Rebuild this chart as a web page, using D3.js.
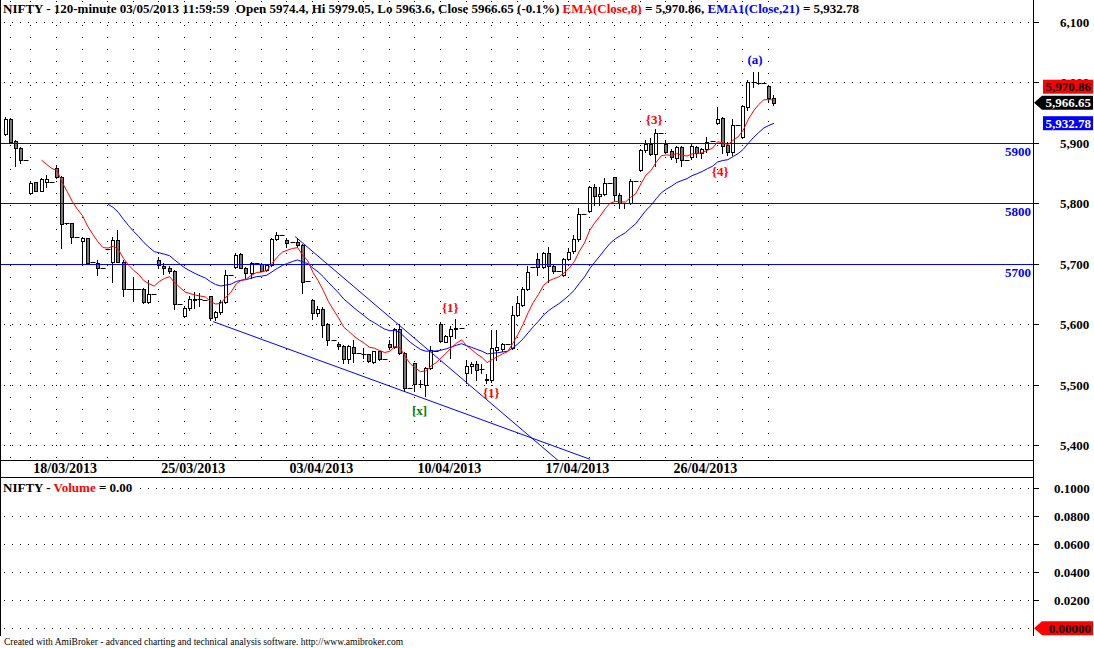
<!DOCTYPE html>
<html><head><meta charset="utf-8">
<script src="https://cdn.jsdelivr.net/npm/d3@7"></script>
<style>body{margin:0;background:#fff;} svg{display:block;} text{white-space:pre;}</style>
</head><body>
<svg id="c" width="1094" height="648"></svg>
<script>
// ---------------- DATA ----------------
const opens = [
5914.6,5939.4,5903,5891.5,5872, 5817,5835,5821.5,5835,5835,
5858.5,5843.6,5767.6,5767.6,5745.5, 5739,5743,5703,5702.6,5693,
5724.7,5704.3,5740,5704,5659, 5659,5659,5659,5636.6,5650,
5706,5697.7,5693.9,5689.4,5634.4, 5613.5,5627.3,5642,5642,5640,
5646.5,5612.6,5620.7,5638.2,5682, 5696,5716.5,5693.4,5685,5702,
5700.5,5691,5699,5741,5748, 5739.6,5736,5736.3,5731.8,5671.9,
5641,5619,5625.7,5601,5575, 5568.4,5565,5543,5563,5553,
5551,5551.4,5539,5555.7,5543, 5568,5563,5592.6,5553,5495,
5536.5,5502,5499.5,5528.3,5557, 5601.4,5572,5581.6,5592,5595,
5520,5531,5535.4,5527,5511, 5509,5558,5560,5568,5561.3,
5616.3,5633,5659,5696,5708.2, 5695,5718,5697,5689,5682.3,
5708,5721,5741,5782.5,5788.5, 5827,5812,5816,5834,5843.6,
5814,5800.7,5800.7,5837,5855.7, 5888.7,5898.6,5881.6,5916,5898.6,
5887,5875,5893,5872,5876.6, 5894,5883,5889.8,5903,5932.8,
5941,5897,5885.9,5930,5910.6, 5960,6001,6000,5999,5994.3,
5974.4];
const highs = [
5943.6,5942,5905,5893,5872, 5836,5836,5842,5847.4,5835,
5863.9,5845,5768,5768,5745.5, 5744,5743,5703,5706,5693,
5724.7,5745.5,5756.6,5706,5659, 5677,5659,5660,5674,5650,
5712.5,5701.6,5697,5690,5634.4, 5630,5646.5,5654.7,5652,5640,
5648,5622,5641,5690.5,5682, 5718,5718,5695,5704,5702,
5702,5700,5743,5753.8,5748, 5742.8,5736,5742.8,5733,5671.9,
5642,5630,5629,5602,5575, 5572,5566,5566,5575,5553,
5561,5552,5557,5556,5543, 5575,5594,5601,5554,5495,
5537,5508,5530,5564,5557, 5603.6,5583,5597,5609.7,5595,
5541.9,5538,5540,5535,5518.8, 5591.5,5591,5570,5568,5630,
5646.5,5662,5697,5696,5719, 5720.8,5729,5699,5689,5710,
5726.4,5748.3,5792.4,5782.5,5829, 5832.5,5827,5842,5834,5844.6,
5817,5800.7,5840,5837,5890, 5905,5908,5922.9,5916,5905,
5890,5895,5895,5872,5899, 5895,5892,5910.6,5903,5960.2,
5943,5902,5939.4,5930,5963, 6004.2,6017.9,6017,5999,5996,
5979.05];
const lows = [
5913,5900,5862.8,5866.7,5872, 5816,5820,5820,5828,5835,
5843,5726.4,5767,5734.6,5745.5, 5701.6,5701.6,5703,5682.3,5693,
5724.7,5671.2,5704,5647.6,5659, 5641,5659,5635,5635,5650,
5693.4,5683.9,5685,5625.7,5634.4, 5612,5625,5627.8,5631,5640,
5608,5608,5618,5636,5682, 5694,5693,5676.8,5676.8,5702,
5688,5689,5697,5740,5748, 5729,5736,5729,5652,5671.9,
5609.2,5614,5580.4,5566.7,5575, 5562,5536.5,5536.5,5539,5553,
5545,5538,5537,5542,5543, 5561,5561,5552,5489.6,5495,
5489.6,5497,5481.4,5527,5557, 5571,5571,5544.8,5577.8,5595,
5503.5,5520,5509,5520,5503.5, 5505,5542,5556,5568,5559,
5614,5631,5657,5696,5682.3, 5693,5671.2,5686,5689,5680,
5706,5719,5739,5782.5,5786, 5797.9,5798,5814,5834,5806.1,
5792.4,5792,5799,5837,5854, 5886,5880,5862.3,5916,5884,
5874,5869,5862.3,5872,5874, 5877,5876,5886,5903,5931,
5883.2,5880.4,5880,5930,5909, 5954.7,5993,5997,5999,5968.4,
5963.6];
const closes = [
5939.4,5902.4,5891.5,5872.2,5872, 5834.7,5821.5,5840.3,5840,5835,
5843.6,5766,5767.6,5745.5,5745.5, 5743,5701.6,5703,5693.4,5693,
5724.7,5740.1,5704,5658.7,5659, 5659,5659,5636.6,5650.4,5650,
5698.8,5693.4,5689.4,5634.4,5634.4, 5627.3,5642.2,5640,5642,5640,
5610.8,5620.7,5638.2,5682.3,5682, 5715.3,5693.4,5685.1,5702.6,5702,
5689.4,5699,5741.2,5748.3,5748, 5734.5,5736,5731.8,5671.2,5671.9,
5619.1,5625.7,5599.8,5575,5575, 5564,5543.1,5564,5553,5553,
5551,5539.2,5555.7,5543,5543, 5563,5592.6,5553,5495.2,5495,
5502.3,5502,5528.3,5558.5,5557, 5572.2,5581.6,5593.1,5594.6,5595,
5530.9,5535.4,5525.5,5527,5507.8, 5561.3,5562.3,5568.4,5568,5616.3,
5635.6,5658.7,5687.7,5696,5695, 5718.1,5697.2,5689.4,5689,5708.2,
5720.8,5741.2,5782.5,5782.5,5827.1, 5812.7,5816,5833.7,5834,5814.4,
5800.7,5800.7,5837.5,5837,5888.7, 5898.6,5881.6,5916.2,5916,5885.9,
5876.6,5893.1,5872.2,5872,5895.3, 5883.2,5889.8,5902.4,5903,5939.4,
5895.3,5885.9,5930,5930,5961.3, 6001.4,6001,6000,5999,5974,
5966.65];

const dateLabels = ["18/03/2013","25/03/2013","03/04/2013","10/04/2013","17/04/2013","26/04/2013"];
const dateLabelBars = [5,30,55,80,105,130];
const dayStartBars = [1,5,10,15,20,25,30,35,40,45,50,55,60,65,70,75,80,85,90,95,100,105,110,114,119,124,129,134,139,144,149];
const priceTicks = [5400,5500,5600,5700,5800,5900,6000,6100];
const priceTickLabels = ["5,400","5,500","5,600","5,700","5,800","5,900","6,000","6,100"];
const volumeTicks = [0.02,0.04,0.06,0.08,0.1];
const volumeTickLabels = ["0.0200","0.0400","0.0600","0.0800","0.1000"];
const levelLines = [5900,5800,5700];
const levelLabels = ["5900","5800","5700"];
// trend lines: [bar0, price0, bar1, price1]
const trendLines = [[40.5,5605,114.1,5377.5],[56.5,5745.5,107.9,5375.2]];
const annoText = ["(a)","{3}","{4}","{1}","{1}","[x]"];
const annoBar = [146.3,126.6,139.5,86.8,94.8,80.8];
const annoPrice = [6037.3,5939,5852.4,5628.6,5488.3,5457.8];
const annoColor = ["#0000ff","#ff0000","#ff0000","#ff0000","#ff0000","#008000"];
const lastClose = 5966.65, lastEma8 = 5970.86, lastEma21 = 5932.78, lastVolume = 0;

// ---------------- SCALES ----------------
const svg = d3.select('#c');
const AX = 1033;
const x = d3.scaleLinear().domain([0,150]).range([5.7,774]);
const y = d3.scaleLinear().domain([5400,6100]).range([445.7,22]);
const yv = d3.scaleLinear().domain([0,0.1]).range([628.3,488.3]);
const FONT = "'Liberation Serif','Times New Roman',serif";

function ema(arr, n){
  const out = new Array(arr.length).fill(null);
  const k = 2/(n+1);
  let s = 0;
  for(let i=0;i<n;i++) s+=arr[i];
  out[n-1] = s/n;
  for(let i=n;i<arr.length;i++) out[i] = out[i-1] + k*(arr[i]-out[i-1]);
  return out;
}
const ema8 = ema(closes,8), ema21 = ema(closes,21);

// ---------------- GRID ----------------
const grid = svg.append('g');
priceTicks.forEach(t=>{
  const yy = Math.floor(y(t))+0.5;
  grid.append('line').attr('x1',4).attr('x2',AX).attr('y1',yy).attr('y2',yy)
    .attr('stroke','#000').attr('stroke-dasharray','1,7');
});
dayStartBars.forEach(b=>{
  const xx = Math.round(x(b)-1)+0.5;
  grid.append('line').attr('x1',xx).attr('x2',xx).attr('y1',1).attr('y2',460)
    .attr('stroke','#000').attr('stroke-dasharray','1,11');
});
volumeTicks.concat([0]).forEach(t=>{
  const yy = Math.round(yv(t))+0.5;
  grid.append('line').attr('x1',4).attr('x2',AX).attr('y1',yy).attr('y2',yy)
    .attr('stroke','#000').attr('stroke-dasharray','1,7');
});

// clip for main panel
svg.append('clipPath').attr('id','mainclip').append('rect')
  .attr('x',0).attr('y',0).attr('width',AX).attr('height',460);

// ---------------- CANDLES ----------------
const cg = svg.append('g');
closes.forEach((c,i)=>{
  const o = opens[i], h = highs[i], l = lows[i];
  const xc = Math.round(x(i));
  const yh = Math.round(y(h)), yl = Math.round(y(l));
  if (yl > yh) cg.append('line').attr('x1',xc-0.5).attr('x2',xc-0.5).attr('y1',yh).attr('y2',yl+1)
      .attr('stroke','#000').attr('stroke-width',1);
  const yo = Math.round(y(o)), yc = Math.round(y(c));
  const top = Math.min(yo,yc), bot = Math.max(yo,yc);
  if (bot - top < 1) {
    cg.append('line').attr('x1',xc-2.5).attr('x2',xc+2.5).attr('y1',top+0.5).attr('y2',top+0.5)
      .attr('stroke','#000');
  } else {
    cg.append('rect').attr('x',xc-1.5).attr('y',top+0.5).attr('width',3).attr('height',bot-top)
      .attr('fill', c>=o ? '#ffffff' : '#7a7a7a').attr('stroke','#000').attr('stroke-width',1);
  }
});

// ---------------- LINES ----------------
const lg = svg.append('g').attr('clip-path','url(#mainclip)');
levelLines.forEach((v,k)=>{
  const yy = Math.floor(y(v))+0.5;
  lg.append('line').attr('x1',0).attr('x2',AX).attr('y1',yy).attr('y2',yy).attr('stroke','#0000ff');
  svg.append('text').attr('x',AX-2).attr('y',yy+12).attr('text-anchor','end')
    .attr('font-family',FONT).attr('font-weight','bold').attr('font-size',13).attr('fill','#0000ff').text(levelLabels[k]);
});
trendLines.forEach(t=>{
  lg.append('line').attr('x1',x(t[0])).attr('y1',y(t[1])).attr('x2',x(t[2])).attr('y2',y(t[3]))
    .attr('stroke','#0000ff').attr('stroke-width',1);
});
const line = d3.line().defined(d=>d[1]!==null).x(d=>x(d[0])).y(d=>y(d[1]));
lg.append('path').attr('d', line(ema21.map((v,i)=>[i,v]))).attr('fill','none').attr('stroke','#0000ff').attr('stroke-width',1);
lg.append('path').attr('d', line(ema8.map((v,i)=>[i,v]))).attr('fill','none').attr('stroke','#ff0000').attr('stroke-width',1);

// annotations
annoText.forEach((t,k)=>{
  svg.append('text').attr('x',x(annoBar[k])).attr('y',y(annoPrice[k])+4.5).attr('text-anchor','middle')
    .attr('font-family',FONT).attr('font-weight','bold').attr('font-size',13).attr('fill',annoColor[k]).text(t);
});

// ---------------- FRAMES / AXES ----------------
const fg = svg.append('g').attr('stroke','#000').attr('stroke-width',1);
fg.append('line').attr('x1',AX+0.5).attr('x2',AX+0.5).attr('y1',0).attr('y2',636);
fg.append('line').attr('x1',0.5).attr('x2',0.5).attr('y1',0).attr('y2',636);
fg.append('line').attr('x1',0).attr('x2',AX).attr('y1',460.5).attr('y2',460.5);
fg.append('line').attr('x1',0).attr('x2',AX).attr('y1',477.5).attr('y2',477.5);

priceTicks.forEach((t,k)=>{
  const yy = Math.floor(y(t))+0.5;
  svg.append('line').attr('x1',AX).attr('x2',AX+6).attr('y1',yy).attr('y2',yy).attr('stroke','#000');
  svg.append('text').attr('x',1060).attr('y',yy+4.5).attr('font-family',FONT).attr('font-weight','bold')
    .attr('font-size',13).attr('fill','#000').text(priceTickLabels[k]);
});
volumeTicks.forEach((t,k)=>{
  const yy = Math.round(yv(t))+0.5;
  svg.append('line').attr('x1',AX).attr('x2',AX+6).attr('y1',yy).attr('y2',yy).attr('stroke','#000');
  svg.append('text').attr('x',1054).attr('y',yy+4.5).attr('font-family',FONT).attr('font-weight','bold')
    .attr('font-size',13).attr('fill','#000').text(volumeTickLabels[k]);
});
dateLabels.forEach((d,k)=>{
  svg.append('text').attr('x',x(dateLabelBars[k])+2).attr('y',473).attr('font-family',FONT).attr('font-weight','bold')
    .attr('font-size',14).attr('fill','#000').text(d);
});

// value boxes on right axis
const fmt = d3.format(',.2f');
function box(v, yCenter, bg, fg2, arrow, txt){
  const g = svg.append('g');
  const t = yCenter-7, b = yCenter+7;
  if (arrow) {
    g.append('path').attr('d',`M${AX+1},${yCenter} L${AX+9},${t} L1093,${t} L1093,${b} L${AX+9},${b} Z`).attr('fill',bg);
  } else {
    g.append('rect').attr('x',1043).attr('y',t).attr('width',50).attr('height',14).attr('fill',bg);
  }
  g.append('text').attr('x',1091).attr('y',yCenter+4.5).attr('text-anchor','end').attr('font-family',FONT)
    .attr('font-weight','bold').attr('font-size',13).attr('fill',fg2).text(txt);
}
const yClose = y(lastClose), y21 = y(lastEma21);
let y8 = y(lastEma8);
if (Math.abs(y8 - yClose) < 15) y8 = yClose - 16;
box(lastEma8, y8, '#ff0000', '#000', false, fmt(lastEma8));
box(lastClose, yClose, '#000000', '#ffffff', true, fmt(lastClose));
box(lastEma21, y21, '#0000ff', '#ffffff', false, fmt(lastEma21));
box(lastVolume, yv(lastVolume), '#ff0000', '#000', true, d3.format('.5f')(lastVolume));

// ---------------- TEXTS ----------------
const hdr = svg.append('text').attr('x',3).attr('y',13).attr('font-family',FONT).attr('font-weight','bold').attr('font-size',13);
hdr.append('tspan').attr('fill','#000').text('NIFTY - 120-minute 03/05/2013 11:59:59  Open 5974.4, Hi 5979.05, Lo 5963.6, Close 5966.65 (-0.1%) ');
hdr.append('tspan').attr('fill','#ff0000').text('EMA(Close,8)');
hdr.append('tspan').attr('fill','#000').text(' = ' + fmt(lastEma8) + ', ');
hdr.append('tspan').attr('fill','#0000ff').text('EMA1(Close,21)');
hdr.append('tspan').attr('fill','#000').text(' = ' + fmt(lastEma21));

svg.append('rect').attr('x',1).attr('y',480).attr('width',132).attr('height',14).attr('fill','#fff');
const vh = svg.append('text').attr('x',3).attr('y',492).attr('font-family',FONT).attr('font-weight','bold').attr('font-size',13);
vh.append('tspan').attr('fill','#000').text('NIFTY - ');
vh.append('tspan').attr('fill','#ff0000').text('Volume');
vh.append('tspan').attr('fill','#000').text(' = 0.00');

svg.append('text').attr('x',4).attr('y',645).attr('font-family',FONT).attr('font-size',9.5).attr('fill','#000')
  .text('Created with AmiBroker - advanced charting and technical analysis software. http://www.amibroker.com');
</script>
</body></html>
